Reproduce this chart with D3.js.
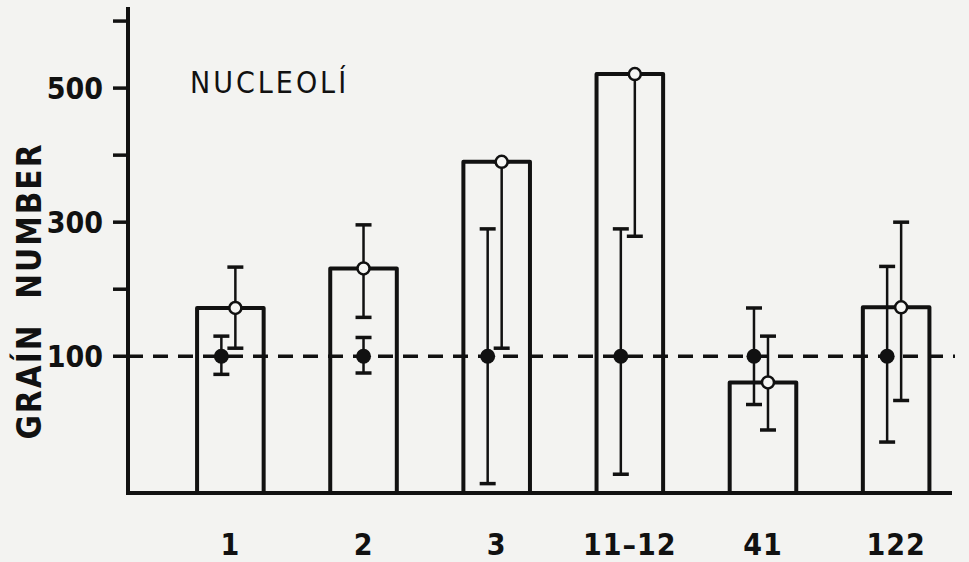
<!DOCTYPE html>
<html>
    <head>
        <meta charset="utf-8">
        <title> Nucleoli grain number </title>
        <script type="text/javascript" src="https://d3js.org/d3.v7.min.js"></script>
        <style>
            body { margin: 0; background: #f3f3f1; }
            svg { display: block; }
            text { font-family: "DejaVu Sans Condensed", "DejaVu Sans", sans-serif; fill: #111; }
        </style>
    </head>
    <body>
        <script>

            // categories and values
            var categories = ["1", "2", "3", "11–12", "41", "122"];
            var barValues  = [172, 231, 390, 521, 61, 173];   // open circle = top of bar
            var openLow    = [112, 158, 112, 279, -10, 34];
            var openHigh   = [233, 296, 390, 521, 130, 300];
            var filledMean = [100, 100, 100, 100, 100, 100];
            var filledLow  = [73, 75, -90, -76, 28, -28];
            var filledHigh = [130, 128, 290, 290, 172, 234];
            var dodged     = [true, false, true, true, true, true];

            var majorTicks = [100, 300, 500];
            var minorTicks = [200, 400, 600];
            var refLine = 100;

            var width = 969, height = 562;

            var svg = d3.select("body").append("svg")
                        .attr("width", width)
                        .attr("height", height);

            var x = d3.scaleBand()
                        .domain(categories)
                        .range([130.5, 996])
                        .paddingInner(0.5)
                        .paddingOuter(0.5);

            var y = d3.scaleLinear()
                        .domain([-104, 621])
                        .range([493, 7]);

            var axisX = 128, baseY = y(-104);

            var rows = categories.map(function(c, i) {
                return {cat: c, bar: barValues[i], oLow: openLow[i], oHigh: openHigh[i],
                        fMean: filledMean[i], fLow: filledLow[i], fHigh: filledHigh[i], dodge: dodged[i]};
            });

            function cx(d) { return x(d.cat) + x.bandwidth() / 2; }

            // dashed reference line (drawn first, bars are hollow)
            svg.append("line")
                .attr("x1", axisX).attr("x2", 955)
                .attr("y1", y(refLine)).attr("y2", y(refLine))
                .attr("stroke", "#111")
                .attr("stroke-width", 3.5)
                .attr("stroke-dasharray", "15,10");

            // bars
            svg.selectAll(".bar")
                .data(rows)
                .enter()
                .append("path")
                .attr("class", "bar")
                .attr("d", function(d) {
                    var x0 = x(d.cat), x1 = x0 + x.bandwidth();
                    return "M" + x0 + "," + baseY + "V" + y(d.bar) + "H" + x1 + "V" + baseY;
                })
                .attr("fill", "none")
                .attr("stroke", "#111")
                .attr("stroke-width", 4)
                .attr("stroke-linejoin", "round");

            // error bars helper
            function errBar(sel, px, lo, hi) {
                var g = sel.append("g")
                            .attr("stroke", "#111")
                            .attr("stroke-width", 2.5);
                g.append("line").attr("x1", px).attr("x2", px).attr("y1", y(lo)).attr("y2", y(hi));
                g.append("line").attr("x1", px - 8).attr("x2", px + 8).attr("y1", y(lo)).attr("y2", y(lo)).attr("stroke-width", 3.5);
                if (hi !== lo)
                    g.append("line").attr("x1", px - 8).attr("x2", px + 8).attr("y1", y(hi)).attr("y2", y(hi)).attr("stroke-width", 3.5);
            }

            var groups = svg.selectAll(".cat")
                            .data(rows)
                            .enter()
                            .append("g")
                            .attr("class", "cat");

            groups.each(function(d) {
                var g = d3.select(this);
                var fx = cx(d) + (d.dodge ? -9 : 0);
                var ox = cx(d) + (d.dodge ? 5 : 0);

                errBar(g, fx, d.fLow, d.fHigh);
                errBar(g, ox, d.oLow, d.oHigh);

                g.append("circle")
                    .attr("cx", fx).attr("cy", y(d.fMean))
                    .attr("r", 7.5)
                    .attr("fill", "#111");

                g.append("circle")
                    .attr("cx", ox).attr("cy", y(d.bar))
                    .attr("r", 6)
                    .attr("fill", "#f6f6f4")
                    .attr("stroke", "#111")
                    .attr("stroke-width", 2.5);
            });

            // axes
            svg.append("line")
                .attr("x1", axisX).attr("x2", axisX)
                .attr("y1", 7).attr("y2", baseY + 2)
                .attr("stroke", "#111").attr("stroke-width", 4);

            svg.append("line")
                .attr("x1", axisX - 2).attr("x2", 952)
                .attr("y1", baseY).attr("y2", baseY)
                .attr("stroke", "#111").attr("stroke-width", 4);

            svg.selectAll(".tick")
                .data(majorTicks.concat(minorTicks))
                .enter()
                .append("line")
                .attr("class", "tick")
                .attr("x1", axisX - 15).attr("x2", axisX)
                .attr("y1", function(d) { return y(d); })
                .attr("y2", function(d) { return y(d); })
                .attr("stroke", "#111").attr("stroke-width", 3.5);

            svg.selectAll(".ylab")
                .data(majorTicks)
                .enter()
                .append("text")
                .attr("class", "ylab")
                .attr("x", 103)
                .attr("y", function(d) { return y(d) + 11; })
                .attr("text-anchor", "end")
                .attr("font-size", 30)
                .attr("font-weight", "bold")
                .text(function(d) { return d; });

            svg.selectAll(".xlab")
                .data(categories)
                .enter()
                .append("text")
                .attr("class", "xlab")
                .attr("x", function(d) { return x(d) + x.bandwidth() / 2; })
                .attr("y", 555)
                .attr("text-anchor", "middle")
                .attr("font-size", 30)
                .attr("font-weight", "bold")
                .attr("letter-spacing", 1)
                .text(function(d) { return d; });

            // titles
            svg.append("text")
                .attr("transform", "translate(41,291) rotate(-90)")
                .attr("text-anchor", "middle")
                .attr("font-size", 33)
                .attr("font-weight", "bold")
                .attr("letter-spacing", 2)
                .attr("xml:space", "preserve")
                .text("GRAÍN  NUMBER");

            svg.append("text")
                .attr("x", 190)
                .attr("y", 93)
                .attr("font-size", 30)
                .attr("letter-spacing", 3)
                .text("NUCLEOLÍ");

        </script>
    </body>
</html>
